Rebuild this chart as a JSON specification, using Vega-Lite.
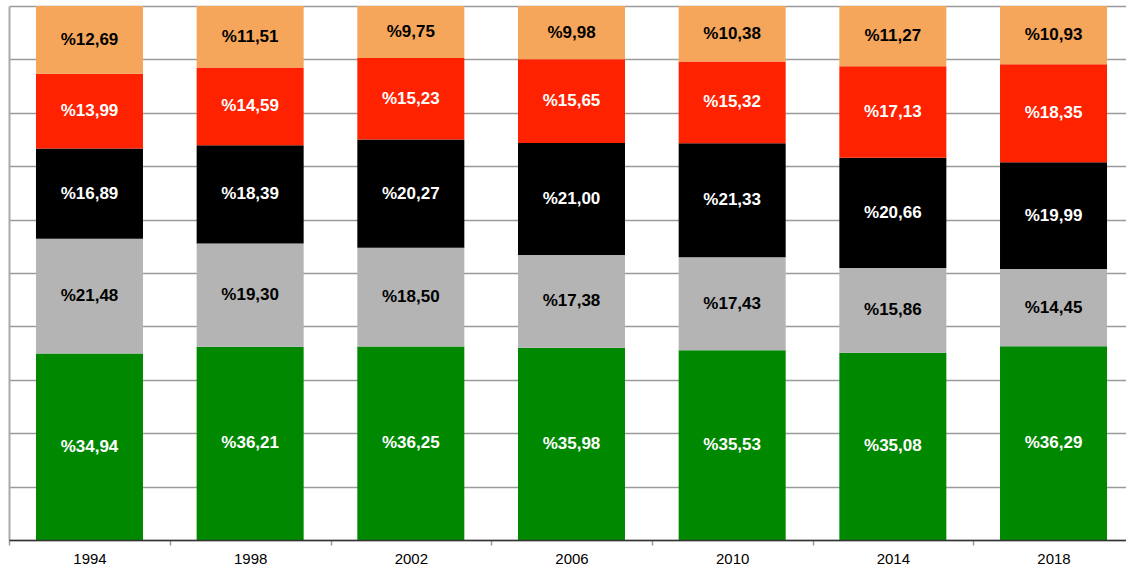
{
  "$schema": "https://vega.github.io/schema/vega-lite/v6.json",
  "width": 1117,
  "height": 534,
  "autosize": {"type": "none"},
  "padding": {"left": 9, "top": 6, "right": 0, "bottom": 31},
  "background": "white",
  "config": {"view": {"stroke": null}, "font": "Liberation Sans"},
  "data": {
    "values": [
      {"year": "1994", "grp": "G1", "value": 34.94},
      {"year": "1994", "grp": "G2", "value": 21.48},
      {"year": "1994", "grp": "G3", "value": 16.89},
      {"year": "1994", "grp": "G4", "value": 13.99},
      {"year": "1994", "grp": "G5", "value": 12.69},
      {"year": "1998", "grp": "G1", "value": 36.21},
      {"year": "1998", "grp": "G2", "value": 19.30},
      {"year": "1998", "grp": "G3", "value": 18.39},
      {"year": "1998", "grp": "G4", "value": 14.59},
      {"year": "1998", "grp": "G5", "value": 11.51},
      {"year": "2002", "grp": "G1", "value": 36.25},
      {"year": "2002", "grp": "G2", "value": 18.50},
      {"year": "2002", "grp": "G3", "value": 20.27},
      {"year": "2002", "grp": "G4", "value": 15.23},
      {"year": "2002", "grp": "G5", "value": 9.75},
      {"year": "2006", "grp": "G1", "value": 35.98},
      {"year": "2006", "grp": "G2", "value": 17.38},
      {"year": "2006", "grp": "G3", "value": 21.00},
      {"year": "2006", "grp": "G4", "value": 15.65},
      {"year": "2006", "grp": "G5", "value": 9.98},
      {"year": "2010", "grp": "G1", "value": 35.53},
      {"year": "2010", "grp": "G2", "value": 17.43},
      {"year": "2010", "grp": "G3", "value": 21.33},
      {"year": "2010", "grp": "G4", "value": 15.32},
      {"year": "2010", "grp": "G5", "value": 10.38},
      {"year": "2014", "grp": "G1", "value": 35.08},
      {"year": "2014", "grp": "G2", "value": 15.86},
      {"year": "2014", "grp": "G3", "value": 20.66},
      {"year": "2014", "grp": "G4", "value": 17.13},
      {"year": "2014", "grp": "G5", "value": 11.27},
      {"year": "2018", "grp": "G1", "value": 36.29},
      {"year": "2018", "grp": "G2", "value": 14.45},
      {"year": "2018", "grp": "G3", "value": 19.99},
      {"year": "2018", "grp": "G4", "value": 18.35},
      {"year": "2018", "grp": "G5", "value": 10.93}
    ]
  },
  "transform": [
    {"stack": "value", "groupby": ["year"], "sort": [{"field": "grp", "order": "ascending"}], "as": ["y0", "y1"]},
    {"calculate": "(datum.y0 + datum.y1) / 2", "as": "ymid"},
    {"calculate": "'%' + replace(format(datum.value, '.2f'), '.', ',')", "as": "label"}
  ],
  "encoding": {
    "x": {
      "field": "year",
      "type": "nominal",
      "title": null,
      "scale": {"paddingInner": 0.334, "paddingOuter": 0.143, "align": 0.587},
      "axis": {
        "labelAngle": 0,
        "labelFont": "Liberation Sans",
        "labelFontSize": 15,
        "labelColor": "#000000",
        "labelPadding": 6,
        "tickOffset": -80.3,
        "labelOffset": 80.3,
        "tickSize": 5,
        "tickColor": "#999999",
        "tickWidth": 1.5,
        "domainColor": "#333333",
        "domainWidth": 1.5,
        "grid": false,
        "zindex": 1
      }
    }
  },
  "layer": [
    {
      "mark": {"type": "bar"},
      "encoding": {
        "y": {
          "field": "y0",
          "type": "quantitative",
          "scale": {"domain": [0, 100], "nice": false},
          "axis": {
            "title": null,
            "labels": false,
            "ticks": false,
            "values": [0, 10, 20, 30, 40, 50, 60, 70, 80, 90, 100],
            "grid": true,
            "gridColor": "#9a9a9a",
            "gridWidth": 1.5,
            "domainColor": "#aaaaaa",
            "domainWidth": 2,
            "zindex": 0
          }
        },
        "y2": {"field": "y1"},
        "color": {
          "field": "grp",
          "type": "nominal",
          "legend": null,
          "scale": {
            "domain": ["G1", "G2", "G3", "G4", "G5"],
            "range": ["#008800", "#B4B4B4", "#000000", "#FF2200", "#F5A65B"]
          }
        }
      }
    },
    {
      "mark": {"type": "text", "font": "Liberation Sans", "fontSize": 17, "fontWeight": "bold", "align": "center", "baseline": "middle"},
      "encoding": {
        "y": {
          "field": "ymid",
          "type": "quantitative",
          "axis": {
            "title": null,
            "labels": false,
            "ticks": false,
            "values": [0, 10, 20, 30, 40, 50, 60, 70, 80, 90, 100],
            "grid": true,
            "gridColor": "#9a9a9a",
            "gridWidth": 1.5,
            "domainColor": "#aaaaaa",
            "domainWidth": 2,
            "zindex": 0
          }
        },
        "text": {"field": "label"},
        "color": {
          "condition": {"test": "datum.grp == 'G2' || datum.grp == 'G5'", "value": "#000000"},
          "value": "#ffffff"
        }
      }
    }
  ]
}
